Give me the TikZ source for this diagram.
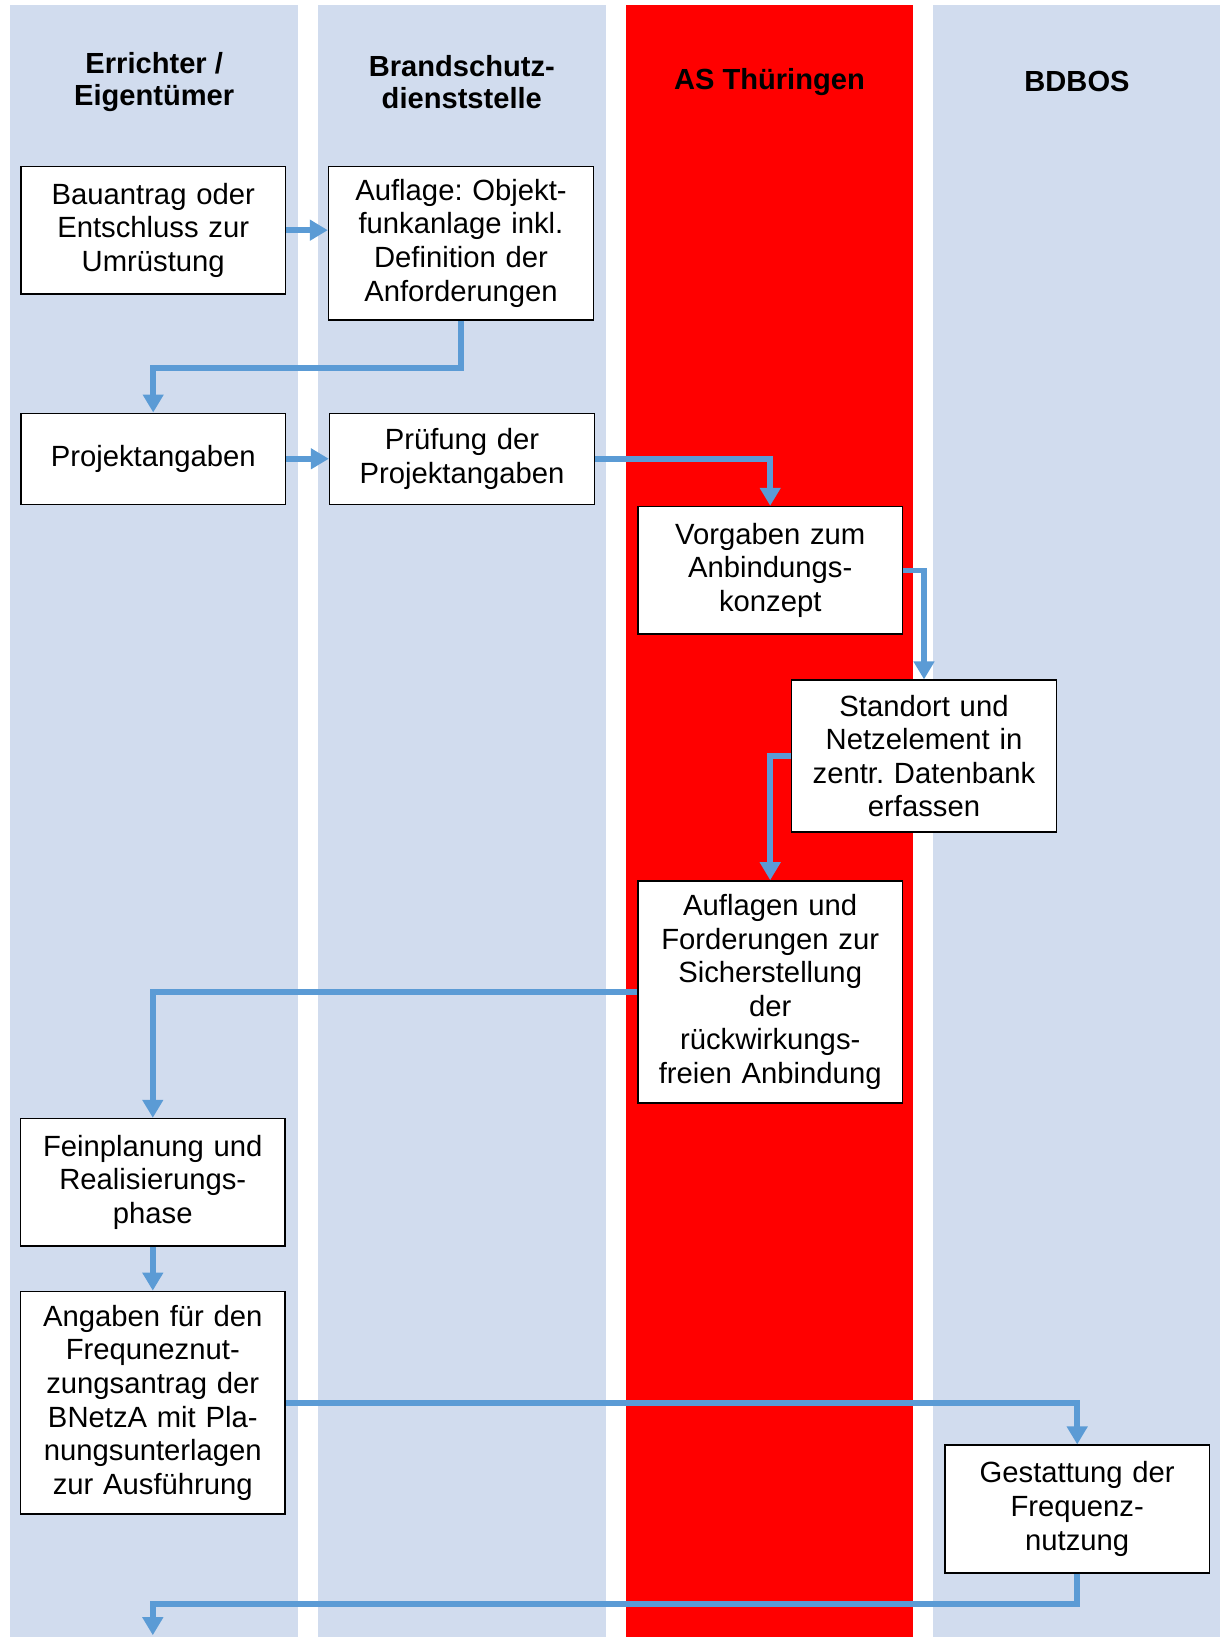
\documentclass[tikz,border=0pt]{standalone}
\usepackage{fontspec}
\setmainfont{Liberation Sans}
\usetikzlibrary{arrows.meta}
\frenchspacing

\definecolor{lanegray}{RGB}{209,220,238}
\definecolor{asred}{RGB}{255,0,0}
\definecolor{flowblue}{RGB}{91,155,213}

\tikzset{
  schritt/.style={draw=black, line width=1.1pt, fill=white, align=center,
    text width=6.3cm, minimum width=6.62cm, inner sep=0pt,
    font=\fontsize{20.8}{23.9}\selectfont},
  kopf/.style={align=center, font=\fontsize{20.7}{22.3}\selectfont\bfseries},
  fluss/.style={draw=flowblue, line width=3.9pt,
    -{Triangle[width=0.5cm,length=0.45cm]}},
}

\begin{document}
\begin{tikzpicture}
    \useasboundingbox (0, 0) rectangle (30.475, 41);
    % Bahnen
    \foreach \i/\farbe in {0/lanegray, 1/lanegray, 2/asred, 3/lanegray}
        \fill[\farbe] (0.26 + 7.69*\i, 0.075) rectangle ++(7.19, 40.8);

    \node[kopf] (errichter) at (3.855, 38.95) {Errichter /\\Eigentümer};
    \node[kopf] (brandschutz) at (11.545, 38.95) {Brandschutz-\\dienststelle};
    \node[kopf] (as) at (19.235, 38.95) {AS Thüringen};
    \node[kopf] (bdbos) at (26.925, 38.95) {BDBOS};

    % Schritte
    \node[schritt, minimum height=3.19cm] (bauantrag) at (3.83, 35.245) {Bauantrag oder\\Entschluss zur\\Umrüstung};
    \node[schritt, minimum height=3.845cm] (auflage) at (11.525, 34.92) {Auflage: Objekt-\\funkanlage inkl.\\Definition der\\Anforderungen};
    \node[schritt, minimum height=2.275cm] (projekt) at (3.83, 29.53) {Projektangaben};
    \node[schritt, minimum height=2.275cm] (pruefung) at (11.55, 29.53) {Prüfung der\\Projektangaben};
    \node[schritt, minimum height=3.19cm] (vorgaben) at (19.255, 26.74) {Vorgaben zum\\Anbindungs-\\konzept};
    \node[schritt, minimum height=3.79cm] (standort) at (23.1, 22.1) {Standort und\\Netzelement in\\zentr. Datenbank\\erfassen};
    \node[schritt, minimum height=5.55cm] (auflagen) at (19.255, 16.2) {Auflagen und\\Forderungen zur\\Sicherstellung\\der\\rückwirkungs-\\freien Anbindung};
    \node[schritt, minimum height=3.19cm] (feinplanung) at (3.82, 11.44) {Feinplanung und\\Realisierungs-\\phase};
    \node[schritt, minimum height=5.57cm] (angaben) at (3.82, 5.93) {Angaben für den\\Frequneznut-\\zungsantrag der\\BNetzA mit Pla-\\nungsunterlagen\\zur Ausführung};
    \node[schritt, minimum height=3.19cm] (gestattung) at (26.93, 3.275) {Gestattung der\\Frequenz-\\nutzung};
    \coordinate (ende) at (3.82, 0.12);

    % Verbindungen
    \draw[fluss] (bauantrag.east) -- (bauantrag.east -| auflage.west);
    \draw[fluss] (auflage.south) -- ++(0, -1.18) -| (projekt.north);
    \draw[fluss] (projekt.east) -- (projekt.east -| pruefung.west);
    \draw[fluss] (pruefung.east) -| (vorgaben.north);
    \draw[fluss] (vorgaben.east) -| (standort.north);
    \draw[fluss] (standort.west) -| (auflagen.north);
    \draw[fluss] (auflagen.west) -| (feinplanung.north);
    \draw[fluss] (feinplanung) -- (angaben);
    \draw[fluss] (angaben.east) -| (gestattung.north);
    \draw[fluss] (gestattung.south) -- ++(0, -0.755) -| (ende);
\end{tikzpicture}
\end{document}
